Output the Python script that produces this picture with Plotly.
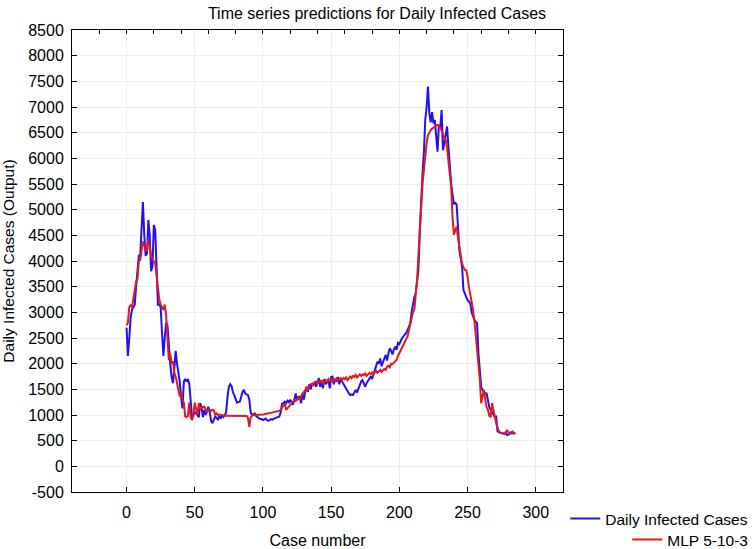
import plotly.graph_objects as go

# Observed daily infected cases (case 0..285)
daily_cases = [
    2700, 2150, 2500, 2900, 3050, 3100, 3150, 3500, 3900, 4100,
    4100, 4600, 5150, 4500, 4100, 4150, 4800, 4500, 3800, 3900,
    4700, 4600, 3700, 3150, 3150, 3100, 2600, 2150, 2500, 2800,
    2750, 2250, 2000, 1750, 1620, 1900, 2250, 2000, 1850, 1650,
    1350, 1130, 1650, 1700, 1650, 1700, 1600, 1200, 960, 1000,
    1050, 1030, 1000, 960, 1230, 1150, 960, 1100, 1000, 1100,
    1160, 1050, 880, 840, 900, 970, 950, 900, 980, 930,
    1000, 960, 1000, 1050, 1350, 1550, 1600, 1560, 1450, 1390,
    1300, 1240, 1250, 1260, 1350, 1450, 1490, 1420, 1400, 1390,
    1300, 1050, 1000, 1010, 1030, 980, 950, 940, 920, 920,
    900, 910, 930, 900, 890, 900, 920, 910, 930, 940,
    950, 960, 970, 1050, 1220, 1230, 1260, 1230, 1280, 1250,
    1300, 1250, 1200, 1300, 1420, 1300, 1350, 1360, 1230, 1420,
    1300, 1450, 1550, 1450, 1600, 1500, 1620, 1580, 1640, 1550,
    1650, 1720, 1550, 1680, 1520, 1700, 1600, 1650, 1680, 1520,
    1740, 1750, 1600, 1700, 1650, 1740, 1600, 1700, 1650, 1620,
    1580, 1500, 1450, 1420, 1390, 1400, 1390, 1450, 1490, 1440,
    1520, 1600, 1650, 1680, 1600, 1550, 1620, 1660, 1700, 1750,
    1700, 1780, 1850, 1950, 2040, 2000, 2100, 1950, 2050, 2100,
    2170, 2060, 2200, 2300, 2250, 2180, 2280, 2330, 2270, 2400,
    2380, 2450, 2500, 2530, 2560, 2600, 2650, 2720, 2790, 3000,
    3180, 3300, 3370, 3600, 3830, 4600, 5250, 5700, 6100, 6750,
    7000, 7400, 6880, 6700, 6900, 6680, 6750, 6490, 6130, 6650,
    6600, 6940, 6160, 6300, 6500, 6620, 6230, 5840, 5500, 5300,
    5120, 5130, 5100, 4670, 4210, 4050, 3890, 3440, 3350, 3300,
    3240, 3200, 3176, 3000, 2900, 2850, 2820, 2790, 2200, 1800,
    1550, 1490, 1450, 1420, 1420, 1300, 1150, 1100, 1050, 1000,
    960, 970, 680, 660, 650, 650, 640, 630, 650, 610,
    620, 640, 650, 640, 650, 630,
]

# MLP 5-10-3 predictions (case 0..285)
mlp_pred = [
    2750, 2800, 3100, 3150, 3100, 3300, 3450, 3600, 3650, 4000,
    4020, 4200, 4380, 4300, 4220, 4200, 4410, 4300, 4100, 4020,
    4000, 3950, 3700, 3370, 3250, 3150, 3110, 3050, 3150, 2950,
    2500, 2070, 2200, 2000, 2050, 1820, 1750, 1600, 1450, 1360,
    1450, 1300, 1240, 970, 960, 980, 1240, 960, 900, 1000,
    1240, 1100, 1000, 1230, 1100, 1160, 1150, 1160, 1120, 1060,
    1100, 1100, 1080, 1100, 1090, 1000, 1030, 1000, 1010, 1000,
    1000, 990, 985, 985, 985, 985, 990, 985, 980, 985,
    985, 990, 985, 980, 985, 985, 980, 985, 980, 950,
    770, 960, 990, 1000, 1000, 1000, 1005, 1005, 1010, 1010,
    1010, 1015, 1020, 1020, 1025, 1030, 1035, 1040, 1045, 1050,
    1060, 1070, 1080, 1100, 1150, 1200, 1230, 1100, 1130, 1160,
    1200, 1230, 1250, 1290, 1270, 1300, 1330, 1290, 1380, 1420,
    1450, 1480, 1550, 1480, 1560, 1600, 1610, 1580, 1640, 1650,
    1620, 1660, 1640, 1680, 1600, 1650, 1680, 1650, 1700, 1660,
    1690, 1640, 1700, 1680, 1710, 1660, 1700, 1720, 1680, 1720,
    1700, 1730, 1680, 1720, 1750, 1720, 1760, 1740, 1780, 1730,
    1770, 1790, 1760, 1790, 1780, 1810, 1760, 1800, 1820, 1790,
    1830, 1800, 1840, 1860, 1820, 1850, 1880, 1840, 1870, 1900,
    1880, 1940, 1960, 1930, 2000, 1990, 2020, 2050, 2070, 2150,
    2200, 2260, 2330, 2380, 2420, 2460, 2530, 2650, 2790, 2900,
    3000, 3050, 3300, 3630, 4100, 4600, 5100, 5500, 5770, 6050,
    6290, 6450, 6520, 6550, 6580, 6600, 6620, 6630, 6650, 6650,
    6600, 6550, 6480, 6400, 6360, 6200, 5970, 5700, 5450, 4860,
    4510, 4600, 4670, 4450, 4280, 4100, 3950, 3880, 3830, 3820,
    3700, 3500, 3350, 3240, 3050, 2850, 2590, 2300, 2100, 1700,
    1230, 1350, 1490, 1300, 1150, 1100, 980, 970, 1230, 1100,
    950, 840, 760, 680, 660, 650, 645, 650, 660, 710,
    660, 650, 660, 680, 650, 640,
]

# Y-axis tick values and labels (hyphen-minus as in the reference)
y_tick_vals = [-500, 0, 500, 1000, 1500, 2000, 2500, 3000, 3500, 4000,
               4500, 5000, 5500, 6000, 6500, 7000, 7500, 8000, 8500]
y_tick_text = ["-500", "0", "500", "1000", "1500", "2000", "2500", "3000",
               "3500", "4000", "4500", "5000", "5500", "6000", "6500",
               "7000", "7500", "8000", "8500"]

case_obs = list(range(len(daily_cases)))
case_pred = list(range(len(mlp_pred)))

FONT = "Liberation Sans, Arial, sans-serif"

fig = go.Figure()
fig.add_trace(go.Scatter(
    x=case_obs, y=daily_cases, mode="lines", name="Daily Infected Cases",
    line=dict(color="#2210f5", width=2), legend="legend",
))
fig.add_trace(go.Scatter(
    x=case_pred, y=mlp_pred, mode="lines", name="MLP 5-10-3",
    line=dict(color="#e01a1f", width=2), legend="legend2",
))
# invisible helper trace to draw the top axis with minor ticks
fig.add_trace(go.Scatter(x=[None], y=[None], xaxis="x2", showlegend=False,
                         hoverinfo="skip"))

fig.update_layout(
    width=754, height=549,
    paper_bgcolor="white", plot_bgcolor="white",
    margin=dict(l=72, r=191, t=30, b=57, autoexpand=False),
    font=dict(family=FONT, size=15, color="black"),
    title=dict(text="Time series predictions for Daily Infected Cases",
               x=0.5, xref="container", xanchor="center",
               y=1 - 13 / 549, yref="container", yanchor="middle",
               font=dict(family=FONT, size=16)),
    xaxis=dict(
        range=[-40, 320], tick0=0, dtick=50, showgrid=True,
        gridcolor="#ececec", gridwidth=1, zeroline=False,
        showline=True, linecolor="black", linewidth=1, mirror=True,
        ticks="inside", ticklen=5, tickcolor="black",
        tickfont=dict(size=16), ticklabelstandoff=6, automargin=False,
        title=dict(text="Case number", font=dict(size=16)),
    ),
    xaxis2=dict(
        range=[-40, 320], tick0=0, dtick=20, overlaying="x", side="top",
        showgrid=False, zeroline=False, showticklabels=False,
        ticks="inside", ticklen=4, tickcolor="black", showline=False,
        automargin=False,
    ),
    yaxis=dict(
        range=[-500, 8500], tickmode="array", tickvals=y_tick_vals,
        ticktext=y_tick_text, showgrid=True,
        gridcolor="#ececec", gridwidth=1, zeroline=False,
        showline=True, linecolor="black", linewidth=1, mirror="ticks",
        ticks="inside", ticklen=5, tickcolor="black",
        tickfont=dict(size=16), ticklabelstandoff=4, automargin=False,
        title=dict(text="Daily Infected Cases (Output)", font=dict(size=15.5)),
    ),
    legend=dict(xref="container", yref="container",
                x=0.999, xanchor="right", y=1 - 519 / 549, yanchor="middle",
                bgcolor="rgba(0,0,0,0)", font=dict(size=15.5),
                itemwidth=30, tracegroupgap=0),
    legend2=dict(xref="container", yref="container",
                 x=0.999, xanchor="right", y=1 - 540 / 549, yanchor="middle",
                 bgcolor="rgba(0,0,0,0)", font=dict(size=15.5),
                 itemwidth=30, tracegroupgap=0),
    showlegend=True,
)

fig.write_html("out.html",
               config={"displayModeBar": False},
               post_script="document.body.style.margin='0px';"
                           "document.body.style.overflow='hidden';")
